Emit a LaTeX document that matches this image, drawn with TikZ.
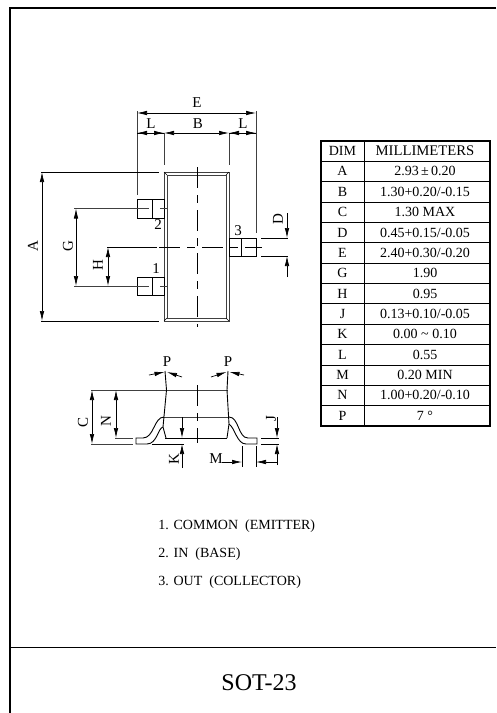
\documentclass[tikz,border=0pt]{standalone}
\usepackage{fontspec}
\setmainfont{Liberation Serif}
\usetikzlibrary{arrows.meta,positioning}

\begin{document}
\begin{tikzpicture}[x=1pt, y=-1pt, line width=0.9pt,
    dim/.style={{Latex[length=10pt,width=4.5pt]}-{Latex[length=10pt,width=4.5pt]}, line width=0.7pt},
    lead/.style={-{Latex[length=10pt,width=4.5pt]}, line width=0.7pt},
    ext/.style={line width=0.7pt, black!75},
    center/.style={line width=0.7pt, dash pattern=on 21pt off 7pt on 8pt off 7pt},
    lab/.style={inner sep=0pt, font=\fontsize{15}{15}\selectfont},
    rlab/.style={lab, rotate=90},
    cell/.style={inner sep=0pt, font=\fontsize{14}{14}\selectfont},
    note/.style={inner sep=0pt, anchor=west, font=\fontsize{14}{14}\selectfont}]
  \useasboundingbox (0,0) rectangle (496,713);

  % frame
  \coordinate (frametl) at (10,8);
  \draw[line width=1.2pt] (496,8) -- (frametl) -- (10,713);
  \draw[line width=1pt] (10,647) -- (496,647);
  \node[inner sep=0pt, font=\fontsize{24}{24}\selectfont] (title) at (259,683) {SOT-23};

  % top view
  \draw[ext, line width=1pt] (164,172) rectangle (229,321);
  \draw[ext, line width=1pt] (167,175) rectangle (226,318);
  \foreach \xa/\ya/\xb/\yb in {164/172/167/175, 229/172/226/175, 164/321/167/318, 229/321/226/318}
    \draw[line width=0.6pt] (\xa,\ya) -- (\xb,\yb);
  \draw (137,199) rectangle (164,218);
  \draw (152,199) -- (152,218);
  \draw (137,277) rectangle (164,295);
  \draw (152,277) -- (152,295);
  \draw (229,238) rectangle (256,256);
  \draw (241,238) -- (241,256);
  \draw[center] (197,167) -- (197,327);
  \draw[center] (159,247) -- (262,247);
  \draw[ext] (160,208.5) -- (167,208.5);
  \draw[ext] (160,286) -- (167,286);
  \node[lab] (pin1) at (156,269) {1};
  \node[lab] (pin2) at (158,225) {2};
  \node[lab] (pin3) at (238,231) {3};

  % top view dimensions
  \draw[ext] (137,111) -- (137,195);
  \draw[ext] (256,111) -- (256,233);
  \draw[ext] (164,133) -- (164,165);
  \draw[ext] (229,133) -- (229,165);
  \draw[dim] (137,113) -- (256,113);
  \node[lab] (labE) at (197,103) {E};
  \draw[lead] (137,133) -- (164,133);
  \draw[lead] (164,133) -- (137,133);
  \draw[lead] (229,133) -- (256,133);
  \draw[lead] (256,133) -- (229,133);
  \draw[dim] (164,133) -- (229,133);
  \node[lab] (labL) at (151,124) {L};
  \node[lab] (labB) at (198,124) {B};
  \node[lab] (labLb) at (243,124) {L};

  \draw (41,172) -- (159,172);
  \draw (41,321) -- (159,321);
  \draw[dim] (42,172) -- (42,321);
  \node[rlab] (labA) at (33,246) {A};
  \draw[ext] (74,208.5) -- (149,208.5);
  \draw[ext] (74,286) -- (149,286);
  \draw[dim] (76,208.5) -- (76,286);
  \node[rlab] (labG) at (68,246) {G};
  \draw (107,247) -- (157,247);
  \draw[dim] (108,247) -- (108,286);
  \node[rlab] (labH) at (98,265) {H};
  \draw (261,238) -- (288,238);
  \draw (261,256) -- (288,256);
  \draw[lead] (287,213) -- (287,238);
  \draw[lead] (287,277) -- (287,256);
  \node[rlab] (labD) at (278,219) {D};

  % side view
  \draw[ext] (91,390) -- (228,390);
  \draw[ext] (91,444) -- (133,444);
  \draw[ext] (115,438) -- (133,438);
  \draw[ext] (163,417) -- (229,417);
  \draw (165,438) -- (227,438);
  \draw (165,371) -- (166.5,390) -- (163,427) -- (166,438);
  \draw (228,371) -- (227,390) -- (229,424) -- (227,438);
  \draw (164,417) .. controls (154,417) and (154,438) .. (143,438) -- (136,438) -- (136,444) -- (147,444) .. controls (157,444) and (158,428) .. (163,427);
  \draw (229,417) .. controls (239,417) and (238,438) .. (248,438) -- (257,438) -- (257,444) -- (246,444) .. controls (237,444) and (235,428) .. (229,424);
  \draw[center] (197,385) -- (197,443);
  \draw[dim] (92,390) -- (92,444);
  \node[rlab] (labC) at (83,422) {C};
  \draw[dim] (116,390) -- (116,438);
  \node[rlab] (labN) at (106,421) {N};
  \node[lab] (labPa) at (167,362) {P};
  \node[lab] (labPb) at (228,362) {P};
  \draw[lead] (149,375) -- (164.5,372);
  \draw[lead] (182,377) -- (167,372);
  \draw[lead] (211,377) -- (226.5,372);
  \draw[lead] (244,375) -- (229.5,372);
  \draw[lead] (182,417) -- (182,438);
  \draw (152,444) -- (184,444);
  \draw[lead] (182,468) -- (182,444);
  \node[rlab] (labK) at (174,459) {K};
  \draw (261,438) -- (279,438);
  \draw (261,444) -- (279,444);
  \draw[lead] (277,417) -- (277,438);
  \draw[lead] (277,465) -- (277,444);
  \node[rlab] (labJ) at (271,419) {J};
  \draw (242,446) -- (242,467);
  \draw (256,446) -- (256,467);
  \draw[lead] (222,462) -- (242,462);
  \draw[lead] (278,462) -- (256,462);
  \node[lab] (labM) at (216,459) {M};

  % table
  \draw[line width=1.1pt] (321,141) rectangle (490,426);
  \draw (364,141) -- (364,426);
  \foreach \rw in {1,...,13}
    \draw (321,141+\rw*20.36) -- (490,141+\rw*20.36);
  \foreach \dm/\vl [count=\cnt from 0] in {DIM/{\fontsize{14.7}{14.7}\selectfont MILLIMETERS}, A/{2.93\,±\,0.20}, B/{1.30+0.20/-0.15}, C/{1.30 MAX}, D/{0.45+0.15/-0.05}, E/{2.40+0.30/-0.20}, G/{1.90}, H/{0.95}, J/{0.13+0.10/-0.05}, K/{0.00 \symbol{126} 0.10}, L/{0.55}, M/{0.20 MIN}, N/{1.00+0.20/-0.10}, P/{7 °}}
  {
    \node[cell] (dim\cnt) at (342.5,151+\cnt*20.36) {\dm};
    \node[cell] (val\cnt) at (425,151+\cnt*20.36) {\vl};
  }

  % pin notes
  \node[note] (noteA) at (158,526.5) {1. COMMON~~(EMITTER)};
  \node[note] (noteB) at (158,554) {2. IN~~(BASE)};
  \node[note] (noteC) at (158,582) {3. OUT~~(COLLECTOR)};
\end{tikzpicture}
\end{document}
